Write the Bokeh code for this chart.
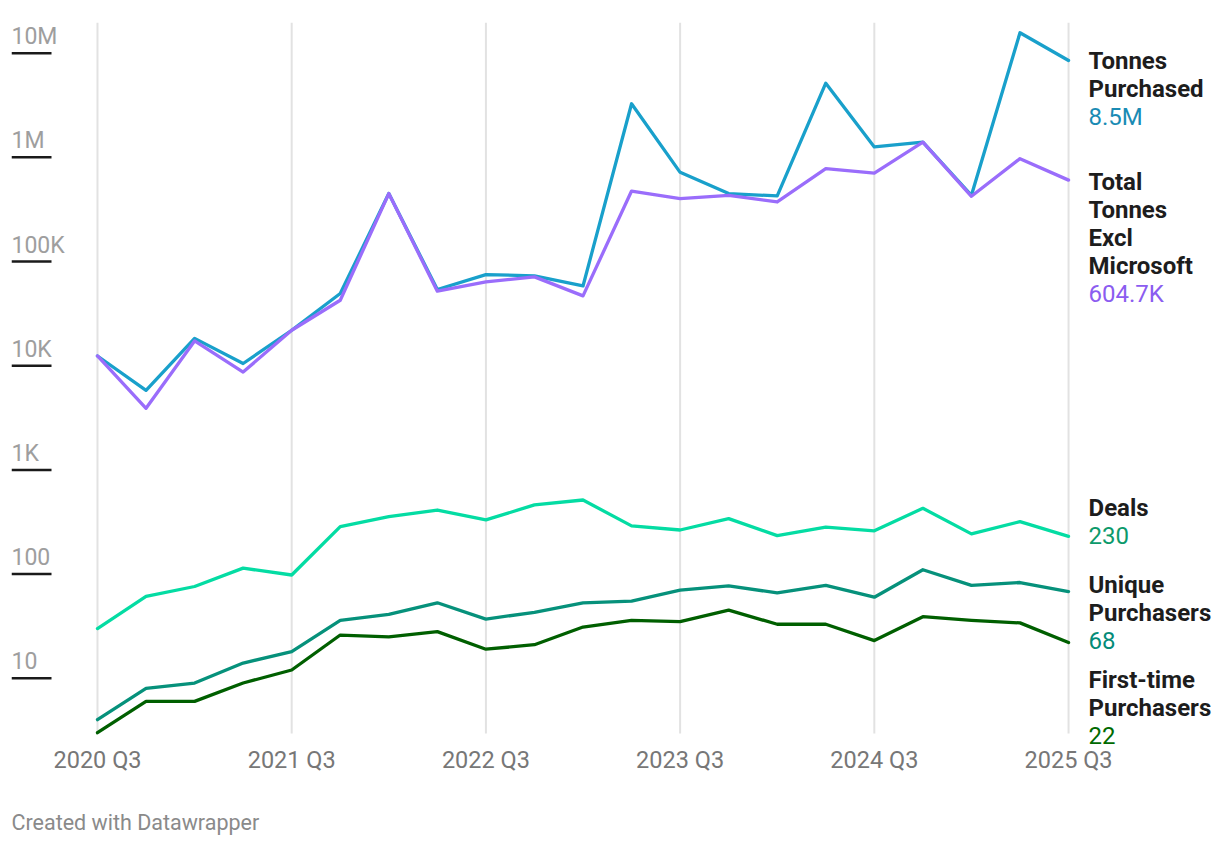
import math
from bokeh.plotting import figure
from bokeh.models import ColumnDataSource, Range1d, FixedTicker, LabelSet, Title
from bokeh.core.properties import value
from bokeh.embed import file_html
from bokeh.resources import INLINE

# ---------------- data ----------------
quarters = ["2020 Q3", "2020 Q4", "2021 Q1", "2021 Q2", "2021 Q3", "2021 Q4", "2022 Q1",
            "2022 Q2", "2022 Q3", "2022 Q4", "2023 Q1", "2023 Q2", "2023 Q3", "2023 Q4",
            "2024 Q1", "2024 Q2", "2024 Q3", "2024 Q4", "2025 Q1", "2025 Q2", "2025 Q3"]

tonnes_purchased = [12400, 5800, 18300, 10500, 21900, 49300, 449000, 53900, 75000, 72800,
                    58300, 3270000, 718000, 449000, 426000, 5150000, 1260000, 1400000,
                    432000, 15700000, 8500000]
total_excl_microsoft = [12400, 3900, 17300, 8700, 21900, 42500, 449000, 51900, 63700, 71200,
                        46800, 475000, 402000, 432000, 373000, 779000, 707000, 1400000,
                        423000, 972000, 604700]
deals = [30, 61, 76, 114, 98, 285, 356, 412, 331, 461, 514, 290, 265, 341, 234, 282, 260,
         428, 243, 319, 230]
unique_purchasers = [4, 8, 9, 14, 18, 36, 41, 53, 37, 43, 53, 55, 70, 77, 66, 78, 60, 110,
                     78, 83, 68]
first_time_purchasers = [3, 6, 6, 9, 12, 26, 25, 28, 19, 21, 31, 36, 35, 45, 33, 33, 23, 39,
                         36, 34, 22]

series = [tonnes_purchased, total_excl_microsoft, deals, unique_purchasers, first_time_purchasers]
label_lines = [["Tonnes", "Purchased"], ["Total", "Tonnes", "Excl", "Microsoft"], ["Deals"],
               ["Unique", "Purchasers"], ["First-time", "Purchasers"]]
end_labels = ["8.5M", "604.7K", "230", "68", "22"]

y_tick_values = [10, 100, 1000, 10000, 100000, 1000000, 10000000]
y_tick_labels = ["10", "100", "1K", "10K", "100K", "1M", "10M"]
x_tick_index = [0, 4, 8, 12, 16, 20]

# ---------------- style ----------------
line_colors = ["#19a0cb", "#9a6dfb", "#04dca3", "#06917b", "#005f00"]
value_colors = ["#1a8bb4", "#8b5cf0", "#0c9a6b", "#048b78", "#006a00"]
label_shift = [8, 10, -20.5, 1.6, 45]   # px from line end to first label baseline (down)
line_step = 28
FONT = "Roboto"

PX_PER_DECADE = 104.18
FRAME_H = 730
Y_TOP = 1.97e7
y_bottom = 10 ** (math.log10(Y_TOP) - FRAME_H / PX_PER_DECADE)
grid_bottom = 10 ** (math.log10(Y_TOP) - 711 / PX_PER_DECADE)

p = figure(frame_width=1201, frame_height=FRAME_H,
           x_range=Range1d(-1.771, 22.965), y_range=Range1d(y_bottom, Y_TOP),
           y_axis_type="log", output_backend="svg", toolbar_location=None,
           min_border_left=11, min_border_right=0, min_border_top=22, min_border_bottom=80)
p.outline_line_color = None
p.background_fill_color = "white"
p.border_fill_color = "white"
p.yaxis.visible = False
p.ygrid.grid_line_color = None
p.xgrid.grid_line_color = None

ticker = FixedTicker(ticks=x_tick_index)
p.xaxis.ticker = ticker
p.xaxis.major_label_overrides = {i: quarters[i] for i in x_tick_index}
p.xaxis.axis_line_color = None
p.xaxis.major_tick_line_color = None
p.xaxis.minor_tick_line_color = None
p.xaxis.major_label_text_font = FONT
p.xaxis.major_label_text_font_size = "23.5px"
p.xaxis.major_label_text_color = "#777777"
p.xaxis.major_label_standoff = -13

# vertical grid lines at the x ticks
p.segment(x0=x_tick_index, y0=[grid_bottom] * len(x_tick_index),
          x1=x_tick_index, y1=[Y_TOP] * len(x_tick_index),
          line_color="#e2e2e2", line_width=2)

# y tick dashes and labels
x0 = p.x_range.start
ysrc = ColumnDataSource(dict(x=[x0] * len(y_tick_values), y=y_tick_values, text=y_tick_labels))
p.ray(x="x", y="y", length=40, length_units="screen", angle=0, source=ysrc,
      line_color="#1a1a1a", line_width=2.5)
p.add_layout(LabelSet(x="x", y="y", text="text", source=ysrc, y_offset=9,
                      text_font=value(FONT), text_font_size="23px", text_color="#9e9e9e",
                      text_baseline="alphabetic", text_align="left"))

# lines
xs = list(range(len(quarters)))
for vals, col in zip(series, line_colors):
    p.line(xs, vals, line_color=col, line_width=3.3, line_join="round", line_cap="round")

# end labels
nx, ny, nt, noff = [], [], [], []
vx, vy, vt, voff, vc = [], [], [], [], []
last = len(quarters) - 1
for i, vals in enumerate(series):
    for j, t in enumerate(label_lines[i]):
        nx.append(last); ny.append(vals[-1]); nt.append(t)
        noff.append(-(label_shift[i] + line_step * j))
    vx.append(last); vy.append(vals[-1]); vt.append(end_labels[i])
    voff.append(-(label_shift[i] + line_step * len(label_lines[i])))
    vc.append(value_colors[i])

nsrc = ColumnDataSource(dict(x=nx, y=ny, text=nt, yo=noff))
vsrc = ColumnDataSource(dict(x=vx, y=vy, text=vt, yo=voff, c=vc))
p.add_layout(LabelSet(x="x", y="y", text="text", source=nsrc, x_offset=20, y_offset="yo",
                      text_font=value(FONT), text_font_size="24px", text_font_style="bold",
                      text_color="#1d1d1d", text_baseline="alphabetic", text_align="left"))
p.add_layout(LabelSet(x="x", y="y", text="text", source=vsrc, x_offset=20, y_offset="yo",
                      text_font=value(FONT), text_font_size="24px", text_color="c",
                      text_baseline="alphabetic", text_align="left"))

credit = Title(text="Created with Datawrapper", align="left", text_font=FONT,
               text_font_size="21.5px", text_font_style="normal", text_color="#8a8a8a",
               standoff=63)
p.add_layout(credit, "below")

open("out.html", "w").write(file_html(p, INLINE))
